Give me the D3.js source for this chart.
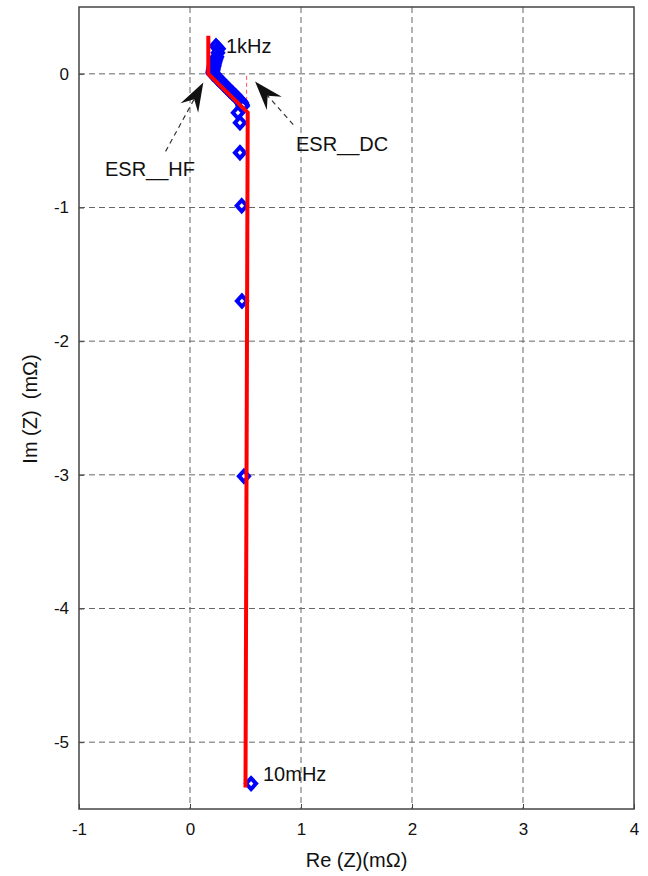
<!DOCTYPE html>
<html>
<head>
<meta charset="utf-8">
<script src="https://cdn.jsdelivr.net/npm/d3@7"></script>
<style>
  body { margin: 0; background: #fff; }
  svg text { font-family: "Liberation Sans", Arial, sans-serif; fill: #111; }
</style>
</head>
<body>
<script>
// measured impedance (mOhm)
var measRe = [0.234, 0.258, 0.252, 0.243, 0.236, 0.230, 0.225, 0.220, 0.216, 0.213, 0.210, 0.207, 0.205, 0.207,
              0.220, 0.230, 0.242, 0.255, 0.268, 0.281, 0.295, 0.308, 0.322, 0.335, 0.349, 0.362, 0.376, 0.389,
              0.403, 0.416, 0.430, 0.443, 0.457, 0.466, 0.472, 0.475, 0.432,
              0.450, 0.450, 0.466, 0.468, 0.486, 0.550];
var measIm = [0.209, 0.187, 0.157, 0.127, 0.112, 0.097, 0.082, 0.067, 0.056, 0.045, 0.033, 0.022, 0.011, 0.0,
              -0.006, -0.015, -0.027, -0.038, -0.049, -0.060, -0.071, -0.083, -0.094, -0.105, -0.117, -0.128, -0.139, -0.150,
              -0.161, -0.172, -0.183, -0.195, -0.206, -0.217, -0.229, -0.240, -0.291,
              -0.366, -0.590, -0.987, -1.700, -3.010, -5.310];

// fitted model line
var fitRe = [0.165, 0.165, 0.52, 0.50];
var fitIm = [0.284, 0.0, -0.29, -5.34];

// ESR_DC marker (thin dashed)
var dcRe = [0.51, 0.51];
var dcIm = [-0.015, -0.25];

var xTicks = [-1, 0, 1, 2, 3, 4];
var yTicks = [0, -1, -2, -3, -4, -5];

var w = 648, h = 876;
var mLeft = 79, mRight = 634, mTop = 7, mBottom = 809;

var svg = d3.select("body").append("svg")
  .attr("width", w)
  .attr("height", h);

var x = d3.scaleLinear().domain([-1, 4]).range([mLeft, mRight]);
var y = d3.scaleLinear().domain([-5.5, 0.5]).range([mBottom, mTop]);

// grid
svg.append("g").selectAll("line")
  .data(xTicks.filter(function(d) { return d > -1 && d < 4; }))
  .enter().append("line")
  .attr("x1", function(d) { return x(d); })
  .attr("x2", function(d) { return x(d); })
  .attr("y1", mTop).attr("y2", mBottom)
  .attr("stroke", "#666").attr("stroke-width", 1)
  .attr("stroke-dasharray", "6,4");

svg.append("g").selectAll("line")
  .data(yTicks)
  .enter().append("line")
  .attr("x1", mLeft).attr("x2", mRight)
  .attr("y1", function(d) { return y(d); })
  .attr("y2", function(d) { return y(d); })
  .attr("stroke", "#666").attr("stroke-width", 1)
  .attr("stroke-dasharray", "6,4");

// axes
var fmt = function(d) { return String(d); };
var xAxis = d3.axisBottom(x).tickValues(xTicks).tickFormat(fmt).tickSize(-5).tickPadding(14);
var gx = svg.append("g").attr("transform", "translate(0," + mBottom + ")").call(xAxis);
var yAxis = d3.axisLeft(y).tickValues(yTicks).tickFormat(fmt).tickSize(-5).tickPadding(10);
var gy = svg.append("g").attr("transform", "translate(" + mLeft + ",0)").call(yAxis);
[gx, gy].forEach(function(g) {
  g.select(".domain").remove();
  g.selectAll(".tick line").attr("stroke", "#444");
  g.selectAll(".tick text").attr("font-size", 17)
    .attr("font-family", "Liberation Sans, Arial, sans-serif").attr("fill", "#111");
});

// frame
svg.append("rect")
  .attr("x", mLeft).attr("y", mTop)
  .attr("width", mRight - mLeft).attr("height", mBottom - mTop)
  .attr("fill", "none").attr("stroke", "#444").attr("stroke-width", 1.5);

// ESR_DC thin red dashed
svg.append("line")
  .attr("x1", x(dcRe[0])).attr("x2", x(dcRe[1]))
  .attr("y1", y(dcIm[0])).attr("y2", y(dcIm[1]))
  .attr("stroke", "#ff5555").attr("stroke-width", 1)
  .attr("stroke-dasharray", "4,3");

// measured points (diamonds)
var meas = measRe.map(function(d, i) { return [d, measIm[i]]; });
svg.append("g").selectAll("path")
  .data(meas)
  .enter().append("path")
  .attr("transform", function(d) { return "translate(" + x(d[0]) + "," + y(d[1]) + ")"; })
  .attr("d", "M0,-5.5L5,0L0,5.5L-5,0Z")
  .attr("fill", "#fff")
  .attr("stroke", "#0000ff")
  .attr("stroke-width", 4);

// fit line
var fit = fitRe.map(function(d, i) { return [d, fitIm[i]]; });
svg.append("path")
  .datum(fit)
  .attr("d", d3.line().x(function(d) { return x(d[0]); }).y(function(d) { return y(d[1]); }))
  .attr("fill", "none")
  .attr("stroke", "#ff0000")
  .attr("stroke-width", 4)
  .attr("stroke-linejoin", "miter");

// annotations
var arrows = [
  { tail: [-0.22, -0.58], tip: [0.12, -0.065] },
  { tail: [0.93, -0.38], tip: [0.586, -0.058] }
];

arrows.forEach(function(a) {
  var tx = x(a.tip[0]), ty = y(a.tip[1]);
  var sx = x(a.tail[0]), sy = y(a.tail[1]);
  var dx = tx - sx, dy = ty - sy, len = Math.sqrt(dx * dx + dy * dy);
  var ux = dx / len, uy = dy / len, px = -uy, py = ux;
  var L = 29, W = 10, N = 19;
  var notchX = tx - ux * N, notchY = ty - uy * N;
  svg.append("line")
    .attr("x1", sx).attr("y1", sy).attr("x2", notchX).attr("y2", notchY)
    .attr("stroke", "#333").attr("stroke-width", 1.2)
    .attr("stroke-dasharray", "5,4");
  var pts = [
    [tx, ty],
    [tx - ux * L + px * W, ty - uy * L + py * W],
    [notchX, notchY],
    [tx - ux * L - px * W, ty - uy * L - py * W]
  ];
  svg.append("path")
    .attr("d", "M" + pts.map(function(p) { return p.join(","); }).join("L") + "Z")
    .attr("fill", "#111");
});

svg.append("text").attr("x", 105).attr("y", 176).attr("font-size", 20).text("ESR__HF");
svg.append("text").attr("x", 296).attr("y", 151).attr("font-size", 20).text("ESR__DC");
svg.append("text").attr("x", 226).attr("y", 53).attr("font-size", 20).text("1kHz");
svg.append("text").attr("x", 263).attr("y", 781).attr("font-size", 20).text("10mHz");

// axis titles
svg.append("text")
  .attr("x", (mLeft + mRight) / 2).attr("y", 867)
  .attr("text-anchor", "middle").attr("font-size", 20)
  .text("Re (Z)(mΩ)");

svg.append("text")
  .attr("transform", "translate(37," + 409 + ") rotate(-90)")
  .attr("text-anchor", "middle").attr("font-size", 20)
  .style("white-space", "pre")
  .text("Im (Z)  (mΩ)");
</script>
</body>
</html>
